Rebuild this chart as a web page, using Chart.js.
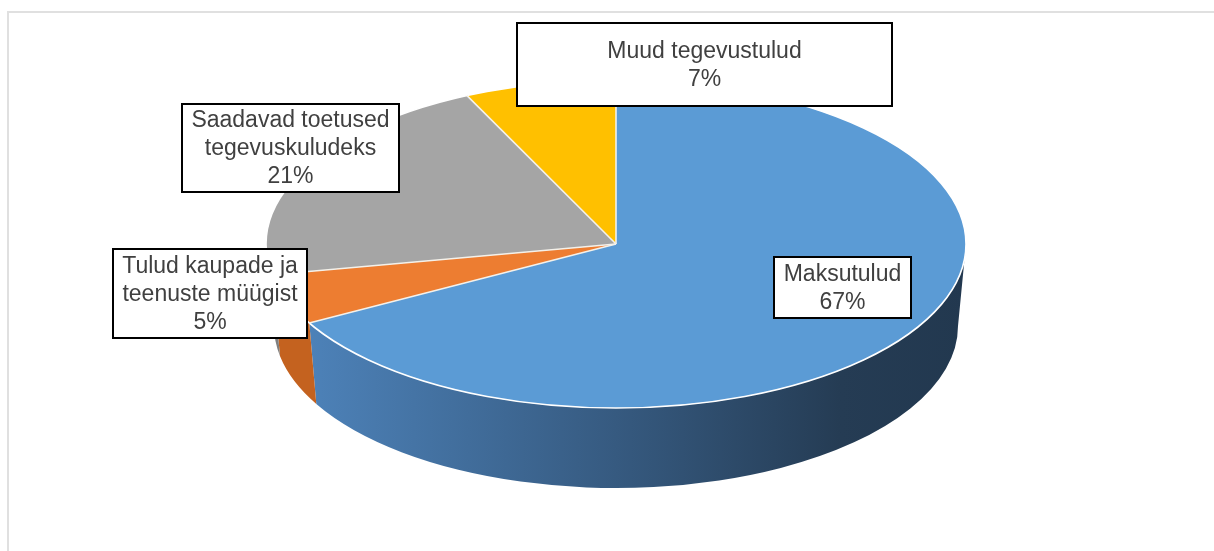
<!DOCTYPE html>
<html><head><meta charset="utf-8">
<script src="https://cdn.jsdelivr.net/npm/chart.js@4.4.0/dist/chart.umd.min.js"></script>
<style>
html,body{margin:0;padding:0;background:#fff;}
#wrap{position:relative;width:1214px;height:551px;overflow:hidden;}
#frame{position:absolute;left:7px;top:11px;right:-4px;bottom:-4px;border-left:2px solid #e0e0e0;border-top:2px solid #e0e0e0;}
#c{position:absolute;left:0;top:0;}
</style></head><body>
<div id="wrap"><div id="frame"></div><canvas id="c" width="1214" height="551"></canvas></div>
<script>
// ---- data ----
const categories = ['Maksutulud', 'Tulud kaupade ja teenuste müügist', 'Saadavad toetused tegevuskuludeks', 'Muud tegevustulud'];
const values = [67, 5, 21, 7];
const labelNameLines = [['Maksutulud'], ['Tulud kaupade ja', 'teenuste müügist'], ['Saadavad toetused', 'tegevuskuludeks'], ['Muud tegevustulud']];

// ---- styling / layout ----
const topColors = ['#5B9BD5', '#ED7D31', '#A5A5A5', '#FFC000'];
const sideColors = [null, '#C4621F', '#7F7F7F', '#C89600'];
const TOP = {cx: 616, cy: 244, rx: 350, ry: 164};
const BOT = {cx: 616, cy: 326, rx: 342, ry: 162};
const labelBoxes = [
  {x: 774, y: 257, w: 137, h: 61},
  {x: 113, y: 249, w: 194, h: 89},
  {x: 182, y: 104, w: 217, h: 88},
  {x: 517, y: 23, w: 375, h: 83}
];

const pie3d = {
  id: 'pie3d',
  beforeDatasetsDraw(chart) {
    const ctx = chart.ctx;
    const arcs = chart.getDatasetMeta(0).data;
    const ccx = arcs[0].x, ccy = arcs[0].y, R = arcs[0].outerRadius;
    const grad = ctx.createLinearGradient(TOP.cx - TOP.rx, 0, TOP.cx + TOP.rx, 0);
    grad.addColorStop(0, '#5087C0');
    grad.addColorStop(0.5, '#365A80');
    grad.addColorStop(0.82, '#253C54');
    grad.addColorStop(1, '#22384F');
    arcs.forEach((a, i) => {
      const s = Math.max(a.startAngle, 0), e = Math.min(a.endAngle, Math.PI);
      if (e <= s) return;
      ctx.beginPath();
      ctx.ellipse(TOP.cx, TOP.cy, TOP.rx, TOP.ry, 0, s, e, false);
      ctx.lineTo(BOT.cx + BOT.rx * Math.cos(e), BOT.cy + BOT.ry * Math.sin(e));
      ctx.ellipse(BOT.cx, BOT.cy, BOT.rx, BOT.ry, 0, e, s, true);
      ctx.closePath();
      ctx.fillStyle = i === 0 ? grad : sideColors[i];
      ctx.fill();
    });
    ctx.save();
    ctx.translate(TOP.cx, TOP.cy);
    ctx.scale(TOP.rx / R, TOP.ry / R);
    ctx.translate(-ccx, -ccy);
  },
  afterDatasetsDraw(chart) {
    const ctx = chart.ctx;
    ctx.restore();
    const arcs = chart.getDatasetMeta(0).data;
    ctx.save();
    ctx.strokeStyle = '#FFFFFF';
    ctx.lineWidth = 1.6;
    ctx.beginPath();
    ctx.ellipse(TOP.cx, TOP.cy, TOP.rx, TOP.ry, 0, 0, Math.PI * 2);
    ctx.stroke();
    ctx.strokeStyle = '#F4F1EA';
    arcs.forEach(a => {
      ctx.beginPath();
      ctx.moveTo(TOP.cx, TOP.cy);
      ctx.lineTo(TOP.cx + TOP.rx * Math.cos(a.startAngle), TOP.cy + TOP.ry * Math.sin(a.startAngle));
      ctx.stroke();
    });
    ctx.restore();
  },
  afterDraw(chart) {
    const ctx = chart.ctx;
    ctx.save();
    ctx.font = '23px "Liberation Sans", Arial, sans-serif';
    ctx.textAlign = 'center';
    ctx.textBaseline = 'middle';
    const lh = 28;
    values.forEach((v, i) => {
      const b = labelBoxes[i];
      ctx.fillStyle = '#FFFFFF';
      ctx.fillRect(b.x, b.y, b.w, b.h);
      ctx.strokeStyle = '#000000';
      ctx.lineWidth = 2;
      ctx.strokeRect(b.x, b.y, b.w, b.h);
      const lines = labelNameLines[i].concat([v + '%']);
      const cx = b.x + b.w / 2, cy = b.y + b.h / 2 + 1;
      ctx.fillStyle = '#404040';
      lines.forEach((t, k) => {
        ctx.fillText(t, cx, cy + (k - (lines.length - 1) / 2) * lh);
      });
    });
    ctx.restore();
  }
};

new Chart(document.getElementById('c'), {
  type: 'pie',
  data: {
    labels: categories,
    datasets: [{
      data: values,
      backgroundColor: topColors,
      borderWidth: 0,
      clip: false
    }]
  },
  options: {
    responsive: false,
    animation: false,
    events: [],
    layout: {padding: 0},
    plugins: {legend: {display: false}, tooltip: {enabled: false}}
  },
  plugins: [pie3d]
});
</script>
</body></html>
